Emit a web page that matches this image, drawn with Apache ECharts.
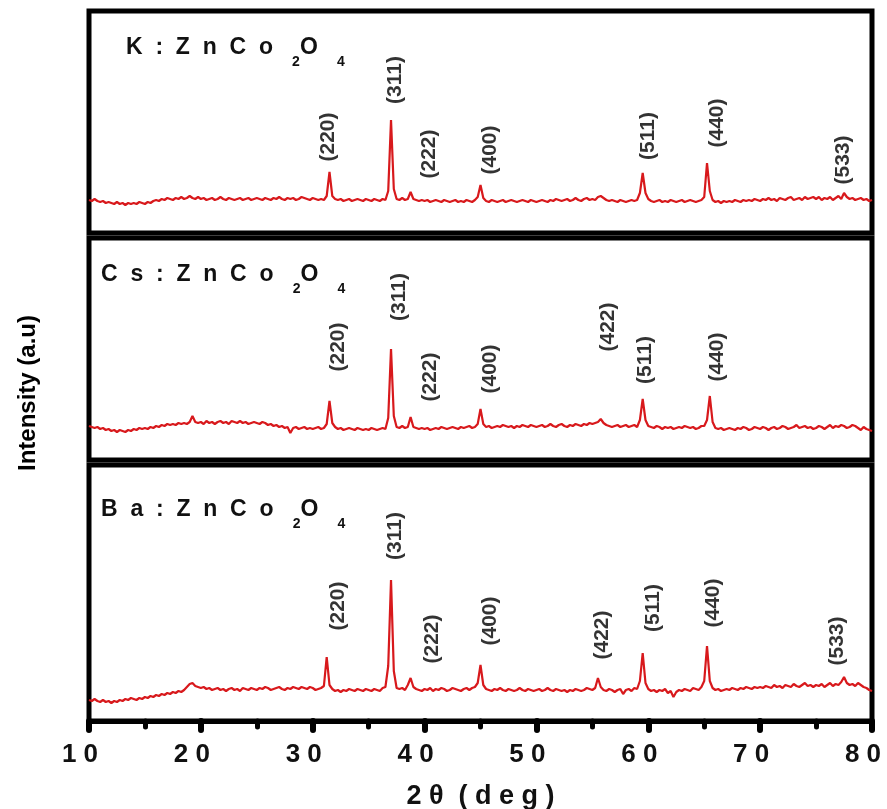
<!DOCTYPE html>
<html style="height: 100%">
<head>
    <meta charset="utf-8">
    <script type="text/javascript" src="https://cdn.jsdelivr.net/npm/echarts@6/dist/echarts.min.js"></script>
    <title>XRD ZnCo2O4</title>
</head>
<body style="height: 100%; margin: 0; background: #fff">
<div id="container" style="width: 887px; height: 809px"></div>
</body>
<script type="text/javascript">
    // 2theta grid of the scans: 10 .. 80 deg, step 0.25
    const thetaStart = 10;
    const thetaStep = 0.25;

    // intensities (a.u.), one row = 5 deg
    const intensityK = [
        33,32,34,32,31,32,30,31,30,29,31,29,30,28,30,29,30,29,31,30,
        29,31,30,32,33,32,34,33,35,34,33,35,34,36,34,35,37,35,34,36,
        34,35,33,34,35,33,34,36,34,33,35,34,33,34,35,33,34,35,33,34,
        35,34,33,35,34,33,35,34,36,34,33,35,34,35,33,34,36,35,34,33,
        35,34,33,34,33,37,61,37,34,33,34,32,33,34,32,33,34,33,32,34,
        33,32,34,33,32,34,33,42,113,44,34,33,35,33,34,41,34,33,32,33,
        32,33,31,32,33,32,31,33,32,31,32,33,31,32,31,33,32,31,33,36,
        48,35,32,31,33,32,31,32,33,31,32,33,32,31,32,33,32,31,33,32,
        31,32,33,32,31,33,32,34,33,32,33,34,32,33,35,33,32,34,35,33,
        34,33,36,37,35,33,32,33,32,31,33,32,31,32,33,32,33,40,60,40,
        34,32,31,32,33,31,32,31,33,32,31,32,33,31,32,33,32,31,32,33,
        36,70,42,33,31,32,30,32,31,32,31,33,32,31,33,32,33,32,34,33,
        32,34,33,35,33,34,32,35,34,33,35,36,33,34,35,33,36,34,35,36,
        34,36,33,35,34,36,33,35,37,34,40,36,34,35,33,34,35,33,34,32,
        33
    ];
    const intensityCs = [
        34,33,32,33,31,32,30,31,29,30,28,30,29,28,30,29,31,30,32,31,
        32,31,33,32,34,33,35,34,36,35,36,35,37,36,37,36,38,44,38,37,
        38,36,39,37,38,36,38,39,37,38,36,39,38,37,39,37,38,36,37,38,
        37,36,38,37,35,36,34,35,33,34,32,33,27,32,33,31,32,33,31,32,
        31,32,33,31,32,36,59,37,33,31,32,30,31,32,31,30,32,31,30,31,
        30,32,31,30,31,32,31,42,111,44,33,32,34,32,33,43,33,32,31,32,
        31,32,30,31,32,31,33,32,31,32,33,32,31,33,32,33,34,32,33,36,
        51,36,33,34,32,33,34,33,35,34,33,34,32,34,33,35,34,33,35,34,
        33,34,35,33,34,36,34,33,35,36,34,33,35,34,36,35,34,36,35,37,
        36,37,38,41,37,35,34,33,34,35,33,34,35,33,34,35,33,40,61,40,
        34,33,32,34,33,31,33,32,33,31,32,33,32,34,33,32,33,31,32,34,
        34,40,64,38,32,31,32,30,31,32,31,30,32,31,33,32,30,31,33,32,
        31,33,32,30,32,33,31,32,34,33,31,32,33,35,32,33,34,32,33,31,
        32,34,33,31,33,35,32,34,33,35,34,32,33,35,34,32,30,33,31,30,
        29
    ];
    const intensityBa = [
        21,20,22,20,19,21,19,20,18,20,19,21,20,22,21,23,22,21,23,22,
        24,23,25,24,26,25,27,26,28,27,29,28,30,29,31,34,37,38,35,34,
        33,34,32,33,31,32,33,31,32,30,32,33,31,32,30,33,32,31,33,32,
        31,33,32,34,33,31,32,33,34,32,31,33,32,34,33,32,34,33,32,34,
        33,31,32,33,35,64,36,32,30,31,29,31,30,32,31,30,32,31,30,32,
        31,30,32,31,30,33,34,55,141,50,33,32,33,31,36,43,34,32,31,30,
        32,31,33,30,32,31,33,32,30,31,33,32,31,30,32,33,31,33,34,38,
        56,36,32,31,30,32,31,33,31,30,32,31,30,31,33,31,30,32,31,30,
        31,32,30,31,33,31,30,32,31,30,31,29,31,30,32,31,30,31,33,32,
        31,33,43,34,31,30,32,31,29,31,32,27,31,32,30,33,32,40,68,38,
        32,30,31,29,31,30,32,28,30,24,29,31,30,32,31,30,33,32,31,34,
        40,75,40,33,31,32,30,31,32,31,33,32,31,33,32,34,33,32,34,33,
        34,33,35,34,33,36,34,35,33,36,35,34,37,35,34,36,38,35,36,34,
        36,35,37,34,36,38,35,37,36,39,44,38,36,37,35,38,36,34,33,31,
        30
    ];

    // peak labels: [2theta, intensity at label centre, hkl]
    const peaksK = [
        [31.4, 96, '(220)'], [37.4, 153, '(311)'], [40.4, 79, '(222)'], [45.9, 83, '(400)'],
        [60.0, 97, '(511)'], [66.2, 110, '(440)'], [77.4, 73, '(533)']
    ];
    const peaksCs = [
        [32.3, 113, '(220)'], [37.7, 163, '(311)'], [40.5, 83, '(222)'], [45.9, 91, '(400)'],
        [56.4, 133, '(422)'], [59.7, 100, '(511)'], [66.2, 103, '(440)']
    ];
    const peaksBa = [
        [32.3, 115, '(220)'], [37.4, 185, '(311)'], [40.7, 82, '(222)'], [45.9, 100, '(400)'],
        [55.9, 86, '(422)'], [60.4, 113, '(511)'], [65.8, 118, '(440)'], [76.9, 80, '(533)']
    ];

    const dopants = ['K', 'Cs', 'Ba'];
    const xTicks = [10, 20, 30, 40, 50, 60, 70, 80];

    const dom = document.getElementById('container');
    const myChart = echarts.init(dom, null, {renderer: 'canvas'});

    const redLine = '#d8191c';
    const font = 'Liberation Sans';
    const panels = [
        {top: 11, height: 222, data: intensityK, peaks: peaksK, titleLeft: 126, titleTop: 36},
        {top: 238, height: 222, data: intensityCs, peaks: peaksCs, titleLeft: 101, titleTop: 263},
        {top: 465, height: 256, data: intensityBa, peaks: peaksBa, titleLeft: 101, titleTop: 498}
    ];

    function toPairs(arr) {
        return arr.map((v, i) => [thetaStart + i * thetaStep, v]);
    }

    let grids = [], xAxes = [], yAxes = [], series = [], graphics = [];
    panels.forEach((p, i) => {
        const last = i === panels.length - 1;
        grids.push({
            left: 89, right: 15, top: p.top, height: p.height,
            containLabel: false, outerBoundsMode: 'none',
            show: true, borderColor: '#000', borderWidth: 5, backgroundColor: '#fff'
        });
        xAxes.push({
            gridIndex: i, type: 'value', min: xTicks[0], max: xTicks[xTicks.length - 1], interval: 10,
            splitLine: {show: false},
            axisLine: {show: last, lineStyle: {color: '#000', width: 5}},
            axisTick: {show: last, length: 9, lineStyle: {color: '#000', width: 6, cap: 'round'}},
            minorTick: {show: last, splitNumber: 2, length: 6, lineStyle: {color: '#000', width: 5, cap: 'round'}},
            axisLabel: {
                show: last, margin: 21, color: '#111', fontSize: 26, fontWeight: 'bold',
                fontFamily: font, padding: [0, 18, 0, 0],
                formatter: v => String(v).split('').join(' ')
            },
            name: last ? '2 θ  ( d e g )' : '',
            nameLocation: 'middle', nameGap: 62,
            nameTextStyle: {color: '#111', fontSize: 27, fontWeight: 'bold', fontFamily: font}
        });
        yAxes.push({
            gridIndex: i, type: 'value', min: 0, max: p.height, show: false, splitLine: {show: false}
        });
        series.push({
            type: 'line', xAxisIndex: i, yAxisIndex: i, data: toPairs(p.data),
            showSymbol: false, smooth: false, animation: false,
            lineStyle: {color: redLine, width: 2.2}
        });
        series.push({
            type: 'scatter', xAxisIndex: i, yAxisIndex: i, symbolSize: 0, animation: false,
            data: p.peaks,
            label: {
                show: true, position: 'inside', rotate: 90, formatter: d => d.value[2],
                color: '#000', fontSize: 21, fontWeight: 'bold', fontFamily: font,
                textBorderWidth: 0
            }
        });
        const name = dopants[i].split('').join('  ');
        graphics.push({
            type: 'text', left: p.titleLeft, top: p.titleTop, z: 10,
            style: {
                text: '{m|' + name + '  :  Z  n  C  o   }{s|2}{m|O   }{s|4}',
                rich: {
                    m: {fontSize: 23, fontWeight: 'bold', fontFamily: font, fill: '#111', color: '#111'},
                    s: {fontSize: 14, fontWeight: 'bold', fontFamily: font, fill: '#111', color: '#111', padding: [30, 0, 0, 0]}
                }
            }
        });
    });

    graphics.push({
        type: 'text', x: 28, y: 393, rotation: Math.PI / 2, z: 10,
        style: {
            text: 'Intensity (a.u)', fill: '#000', fontSize: 24, fontWeight: 'bold',
            fontFamily: font, align: 'center', verticalAlign: 'middle'
        }
    });

    const option = {
        backgroundColor: '#fff',
        animation: false,
        grid: grids,
        xAxis: xAxes,
        yAxis: yAxes,
        series: series,
        graphic: graphics
    };
    myChart.setOption(option);
</script>
</html>
